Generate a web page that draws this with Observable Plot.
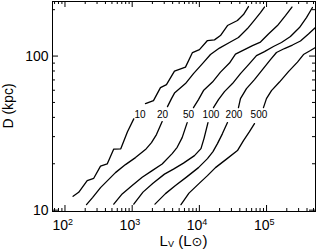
<!DOCTYPE html>
<html><head><meta charset="utf-8">
<script src="https://cdn.jsdelivr.net/npm/d3@7"></script>
<script src="https://cdn.jsdelivr.net/npm/@observablehq/plot@0.6"></script>
<style>html,body{margin:0;padding:0;background:#fff}svg{display:block}</style>
</head><body><div id="chart"></div>
<script>
// Contour levels and their traced curves (L_V in L_sun, D in kpc); null = gap at the label
const levels = [10, 20, 50, 100, 200, 500];
const lum10 = [132, 160, 214, 268, 338, 425, 532, 677, 851, 1056, null, 1577, 2075, 2637, 3238, 4261, 6212, 7895, 10030, 13200, 16780, 20600, 26200, 36900, 45330, 53800];
const dist10 = [12.3, 13.05, 15.55, 16.1, 19.3, 19.95, 24.9, 25.0, 32.3, 39.1, null, 49.2, 51.4, 62.4, 65.3, 79.9, 84.8, 105.4, 110.2, 126.1, 127.4, 135.9, 157.8, 170.1, 186, 209.6];
const lum20 = [209, 257, 338, 401, 564, 795, 1120, 1577, 1938, 2299, 2795, null, 3352, 3845, 4261, 6212, 8170, 11120, 14630, 19910, 28050, 38170, 42320, 51970, 66070, 81150, 93070];
const dist20 = [10.86, 12.06, 14.0, 15.09, 17.52, 19.75, 21.93, 24.71, 27.43, 30.93, 37.56, null, 47.0, 52.97, 57.5, 66.3, 76.96, 89.4, 102.3, 112.7, 122.4, 131.9, 137.9, 150.8, 171.3, 191.6, 208.1];
const lum50 = [532, 710, 1000, 1409, 1985, 2795, 3938, 4673, 5546, 6584, null, 8170, 9696, 11510, 15660, 20610, 28050, 34450, 45330, 61700, 81150, 106700, 145300, 191100, 238800];
const dist50 = [10.94, 12.74, 14.43, 16.33, 18.05, 19.95, 23.28, 25.57, 29.57, 37.0, null, 46.3, 52.18, 59.7, 67.8, 78.7, 90.1, 103.0, 109.4, 117.0, 123.3, 139.0, 157.8, 183.2, 208.1];
const lum100 = [1056, 1448, 2040, 3025, 4117, 5800, 8455, 10560, 11710, 13430, null, 16210, 19240, 23630, 31090, 40890, 55660, 70740, 93070, 126600, 166600, 226800, 308800, 392500, 482000];
const dist100 = [10.94, 13.09, 14.97, 17.13, 18.46, 20.2, 22.59, 25.08, 29.13, 37.0, null, 46.3, 52.18, 58.81, 66.3, 76.96, 89.4, 100.7, 106.9, 115.3, 122.4, 133.9, 153.1, 177.8, 206.5];
const lum200 = [2184, 3130, 4410, 6427, 9696, 13200, 15940, 18590, 22070, 26200, null, 38170, 40890, 50230, 66070, 86900, 114300, 140400, 184700, 242900, 319600, 420200, 534100];
const dist200 = [10.94, 12.8, 14.43, 16.38, 18.88, 21.6, 23.98, 27.03, 31.39, 37.0, null, 46.3, 52.97, 61.52, 70.38, 81.73, 94.9, 105.4, 111.9, 117.9, 125.2, 139.0, 153.1];
const lum500 = [5323, 7002, 10030, 13200, 17360, 25310, 36900, 45330, 55660, 66070, null, 89930, 99650, 118300, 155600, 211800, 288400, 354100, 450100, 534100];
const dist500 = [10.86, 12.9, 14.97, 16.75, 18.88, 21.44, 24.35, 28.27, 32.33, 36.45, null, 46.3, 52.97, 59.7, 67.8, 79.3, 91.4, 102.3, 108.6, 113.6];
// Label positions
const labelLum = [1306, 2824, 6883, 14880, 32720, 77060];
const labelDist = [41.4, 41.4, 41.4, 41.4, 41.4, 41.4];
// Axes
const xMajor = [1e2, 1e3, 1e4, 1e5];
const xExponents = ["2", "3", "4", "5"];
const xMinor = [70, 80, 90, 200, 300, 400, 500, 600, 700, 800, 900, 2000, 3000, 4000, 5000, 6000, 7000, 8000, 9000,
  20000, 30000, 40000, 50000, 60000, 70000, 80000, 90000, 200000, 300000, 400000, 500000];
const yMajor = [10, 100];
const yMinor = [20, 30, 40, 50, 60, 70, 80, 90, 200];

const lumSeries = [lum10, lum20, lum50, lum100, lum200, lum500];
const distSeries = [dist10, dist20, dist50, dist100, dist200, dist500];
const rows = [];
levels.forEach((lev, k) => {
  lumSeries[k].forEach((L, i) => rows.push({level: lev, L, D: distSeries[k][i]}));
});
const labels = levels.map((lev, k) => ({text: String(lev), L: labelLum[k], D: labelDist[k]}));

const W = 316, H = 250, mL = 52, mR = 1, mT = 1, mB = 39;
const pw = W - mL - mR, ph = H - mT - mB;
const font = "'Liberation Sans', Arial, Helvetica, sans-serif";

const chart = Plot.plot({
  width: W, height: H,
  marginLeft: mL, marginRight: mR, marginTop: mT, marginBottom: mB,
  style: {fontFamily: font, background: "white", color: "black"},
  x: {type: "log", domain: [65.2, 5.35e5], axis: null},
  y: {type: "log", domain: [9.8, 226], axis: null},
  marks: [
    Plot.line(rows, {x: "L", y: "D", z: "level", stroke: "black", strokeWidth: 1.3}),
    Plot.text(labels, {x: "L", y: "D", text: "text", fontSize: 10, fill: "black", lineAnchor: "middle"}),
    Plot.frame({stroke: "black", strokeWidth: 1}),
    // bottom & top ticks (inward)
    Plot.tickX(xMajor, {x: d => d, insetTop: ph - 6, stroke: "black"}),
    Plot.tickX(xMinor, {x: d => d, insetTop: ph - 3, stroke: "black"}),
    Plot.tickX(xMajor, {x: d => d, insetBottom: ph - 6, stroke: "black"}),
    Plot.tickX(xMinor, {x: d => d, insetBottom: ph - 3, stroke: "black"}),
    // left & right ticks (inward)
    Plot.tickY(yMajor, {y: d => d, insetRight: pw - 6, stroke: "black"}),
    Plot.tickY(yMinor, {y: d => d, insetRight: pw - 3, stroke: "black"}),
    Plot.tickY(yMajor, {y: d => d, insetLeft: pw - 6, stroke: "black"}),
    Plot.tickY(yMinor, {y: d => d, insetLeft: pw - 3, stroke: "black"}),
    // tick labels
    Plot.text(xMajor, {x: d => d, text: () => "10", frameAnchor: "bottom", dy: 9, dx: 3, textAnchor: "end", lineAnchor: "top", fontSize: 14, fill: "black"}),
    Plot.text(xMajor, {x: d => d, text: (d, i) => xExponents[i], frameAnchor: "bottom", dy: 7, dx: 3, textAnchor: "start", lineAnchor: "top", fontSize: 9, fill: "black"}),
    Plot.text(yMajor, {y: d => d, text: d => String(d), frameAnchor: "left", dx: -4, textAnchor: "end", lineAnchor: "middle", fontSize: 14, fill: "black"})
  ]
});
document.getElementById("chart").appendChild(chart);

const svg = d3.select(chart);
svg.append("text")
  .attr("transform", `translate(13,${mT + ph / 2}) rotate(-90)`)
  .attr("text-anchor", "middle").attr("font-size", 14).attr("font-family", font).attr("fill", "black")
  .text("D (kpc)");
const xt = svg.append("text")
  .attr("x", mL + pw / 2).attr("y", 246)
  .attr("text-anchor", "middle").attr("font-size", 15).attr("font-family", font).attr("fill", "black");
xt.append("tspan").text("L");
xt.append("tspan").attr("font-size", 9).attr("dy", 1).text("V");
xt.append("tspan").attr("dy", -1).text(" (L");
xt.append("tspan").attr("font-family", "'DejaVu Sans', sans-serif").attr("font-size", 13).text("\u2299");
xt.append("tspan").text(")");
</script>
</body></html>
